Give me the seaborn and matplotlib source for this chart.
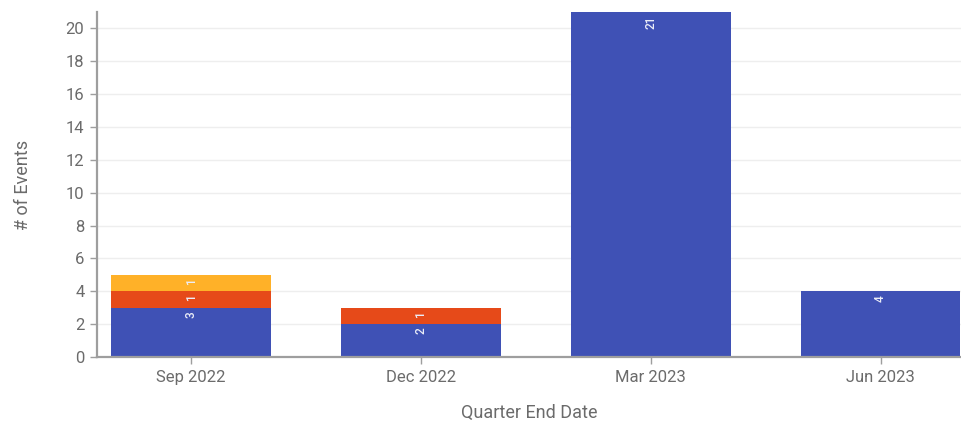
import matplotlib
matplotlib.use("Agg")
import matplotlib.pyplot as plt
import numpy as np
import pandas as pd
import seaborn as sns

# Quarterly event counts, one list per event type (stacked bottom to top)
quarters = ["Sep 2022", "Dec 2022", "Mar 2023", "Jun 2023"]
type_a = [3, 2, 21, 4]
type_b = [1, 1, 0, 0]
type_c = [1, 0, 0, 0]

series_names = ["Type A", "Type B", "Type C"]
series_values = [type_a, type_b, type_c]
series_colors = ["#3F51B5", "#E64A19", "#FFB128"]

y_ticks = list(range(0, 21, 2))

sns.set_theme(style="white")
plt.rcParams["font.family"] = ["Roboto", "DejaVu Sans"]

fig = plt.figure(figsize=(9.61, 4.23), dpi=100)
ax = fig.add_axes([97 / 961, 1 - 357 / 423, 1 - 97 / 961, (357 - 12) / 423])

text_gray = "#6b6b6b"
axis_gray = "#9e9e9e"

bottom = np.zeros(len(quarters))
for name, vals, color in zip(series_names, series_values, series_colors):
    df = pd.DataFrame({"quarter": quarters, "count": vals})
    sns.barplot(data=df, x="quarter", y="count", order=quarters, color=color,
                width=0.695, bottom=bottom, saturation=1, ax=ax,
                edgecolor="none", linewidth=0)
    tops = bottom + np.array(vals)
    for i, v in enumerate(vals):
        if v > 0:
            ax.annotate(str(v), xy=(i, tops[i]), xytext=(0, -2.5),
                        textcoords="offset points", rotation=90,
                        ha="center", va="top", fontsize=8.5,
                        fontweight="medium", color="#eceef8")
    bottom = tops

ax.set_xlim(-0.41, 3.35)
ax.set_ylim(0, 21)
ax.set_yticks(y_ticks)
ax.yaxis.grid(True, color="#eeeeee", linewidth=1)
ax.set_axisbelow(True)

for side in ["top", "right"]:
    ax.spines[side].set_visible(False)
for side in ["left", "bottom"]:
    ax.spines[side].set_color(axis_gray)
    ax.spines[side].set_linewidth(1.6)

ax.tick_params(axis="both", which="both", length=5, width=1, color=axis_gray,
               labelcolor=text_gray, labelsize=12, direction="out",
               bottom=True, left=True, pad=4)

ax.set_xlabel("Quarter End Date", fontsize=13, color=text_gray, labelpad=14)
ax.set_ylabel("# of Events", fontsize=13, color=text_gray, labelpad=24)

fig.savefig("out.png", dpi=100)
